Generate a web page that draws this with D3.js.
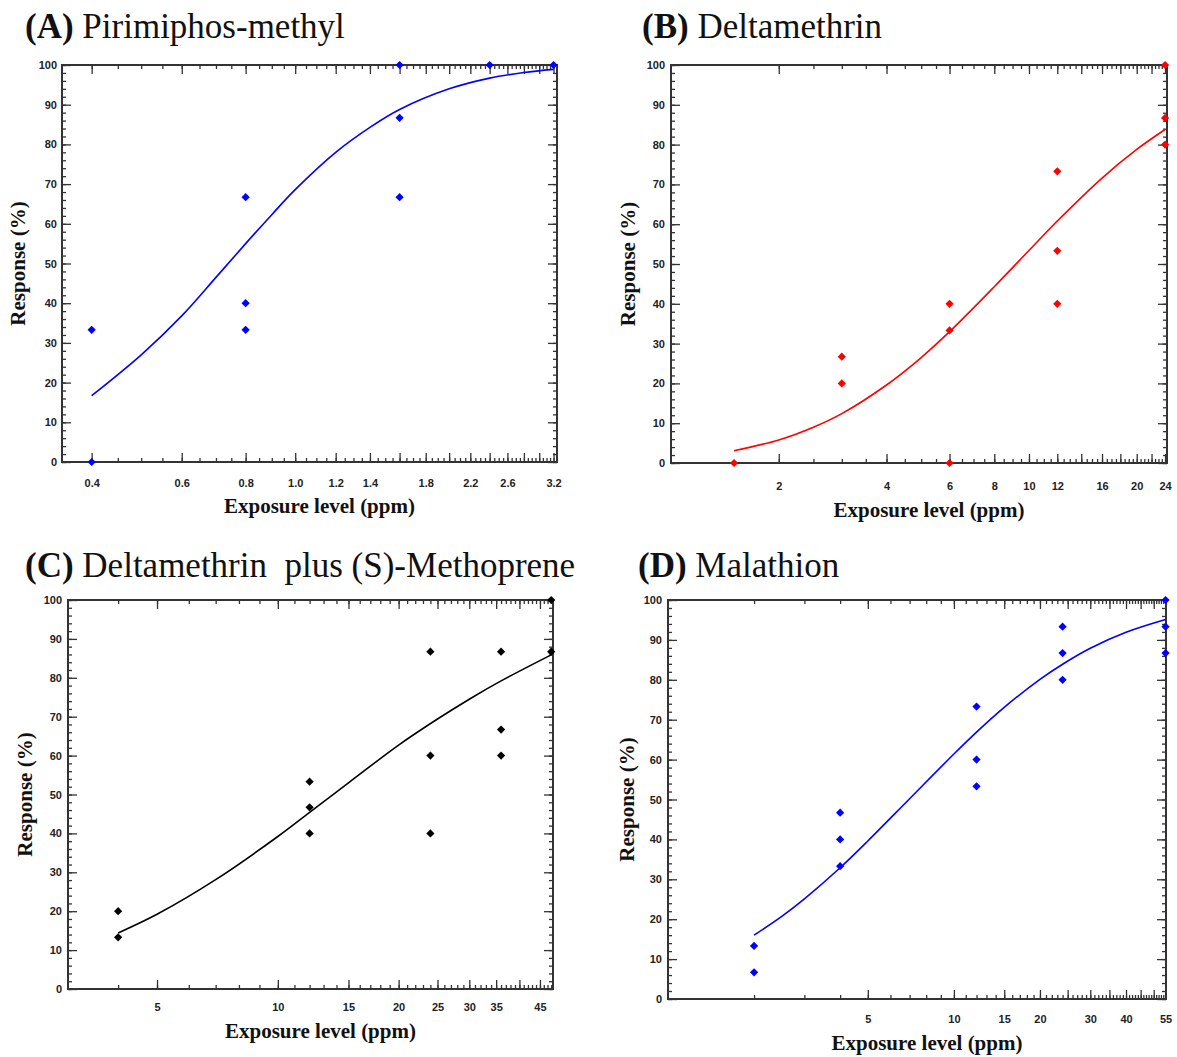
<!DOCTYPE html>
<html>
<head>
<meta charset="utf-8">
<script src="https://cdn.jsdelivr.net/npm/d3@7"></script>
<style>
  html, body { margin: 0; padding: 0; background: #fff; }
  svg { display: block; }
</style>
</head>
<body>
<script>
// ---------- DATA ----------
// (A) Pirimiphos-methyl
const doseA = [0.4, 0.4, 0.8, 0.8, 0.8, 1.6, 1.6, 1.6, 2.4, 3.2];
const respA = [33.3, 0, 66.7, 40, 33.3, 100, 86.7, 66.7, 100, 100];
const fitDoseA = [0.4, 0.5, 0.6, 0.7, 0.8, 0.9, 1.0, 1.2, 1.4, 1.6, 2.0, 2.4, 2.8, 3.2];
const fitRespA = [16.7, 27.0, 36.8, 46.5, 55.0, 62.3, 68.6, 78.0, 84.3, 88.8, 94.0, 96.7, 98.1, 98.9];
const labelsA = ["0.4", "0.6", "0.8", "1.0", "1.2", "1.4", "1.8", "2.2", "2.6", "3.2"];

// (B) Deltamethrin
const doseB = [1.5, 3, 3, 6, 6, 6, 12, 12, 12, 24, 24, 24];
const respB = [0, 26.7, 20, 40, 33.3, 0, 73.3, 53.3, 40, 100, 86.7, 80];
const fitDoseB = [1.5, 2, 2.5, 3, 4, 5, 6, 8, 10, 12, 16, 20, 24];
const fitRespB = [3.1, 5.8, 9.0, 12.4, 19.6, 26.5, 33.0, 44.3, 53.4, 60.8, 71.6, 78.8, 83.8];
const labelsB = ["2", "4", "6", "8", "10", "12", "16", "20", "24"];

// (C) Deltamethrin plus (S)-Methoprene
const doseC = [4, 4, 12, 12, 12, 24, 24, 24, 36, 36, 36, 48, 48];
const respC = [20, 13.3, 53.3, 46.7, 40, 86.7, 60, 40, 86.7, 66.7, 60, 100, 86.7];
const fitDoseC = [4, 5, 7, 10, 12, 15, 20, 25, 30, 36, 48];
const fitRespC = [14.4, 19.2, 28.1, 39.2, 45.4, 53.0, 62.7, 69.4, 74.5, 79.2, 85.9];
const labelsC = ["5", "10", "15", "20", "25", "30", "35", "45"];

// (D) Malathion
const doseD = [2, 2, 4, 4, 4, 12, 12, 12, 24, 24, 24, 55, 55, 55];
const respD = [13.3, 6.7, 46.7, 40, 33.3, 73.3, 60, 53.3, 93.3, 86.7, 80, 100, 93.3, 86.7];
const fitDoseD = [2, 2.5, 3, 4, 5, 7, 10, 12, 15, 20, 24, 30, 40, 55];
const fitRespD = [16.0, 20.7, 25.1, 32.9, 39.6, 50.2, 61.4, 66.9, 73.1, 80.1, 83.9, 87.9, 91.9, 95.1];
const labelsD = ["5", "10", "15", "20", "30", "40", "55"];

const yMajor = d3.range(0, 101, 10);
const yMinor = d3.range(0, 101, 2);

// ---------- LAYOUT ----------
const W = 1177, H = 1057;
const svg = d3.select("body").append("svg").attr("width", W).attr("height", H);

const panels = [
  { letter: "(A)", name: "\u00a0Pirimiphos-methyl", color: "#0000ff",
    dose: doseA, resp: respA, fitDose: fitDoseA, fitResp: fitRespA, labels: labelsA,
    major: d3.range(2, 17).map(i => i / 5), minor: d3.range(8, 65).map(i => i / 20),
    xDomain: [0.35, 3.25], left: 62, right: 557, top: 65, bottom: 462,
    titleX: 25, titleY: 38, xPad: 17, xTitleY: 513, yTitleX: 25, yPad: 5 },
  { letter: "(B)", name: "\u00a0Deltamethrin", color: "#ff0000",
    dose: doseB, resp: respB, fitDose: fitDoseB, fitResp: fitRespB, labels: labelsB,
    major: d3.range(1, 13).map(i => i * 2), minor: d3.range(4, 49).map(i => i / 2),
    xDomain: [1, 24.3], left: 671, right: 1167, top: 65, bottom: 463,
    titleX: 642, titleY: 38, xPad: 19, xTitleY: 517, yTitleX: 635, yPad: 6 },
  { letter: "(C)", name: "\u00a0Deltamethrin\u00a0\u00a0plus (S)-Methoprene", color: "#000000",
    dose: doseC, resp: respC, fitDose: fitDoseC, fitResp: fitRespC, labels: labelsC,
    major: d3.range(1, 10).map(i => i * 5), minor: d3.range(4, 49),
    xDomain: [3, 48.5], left: 68, right: 553, top: 600, bottom: 989,
    titleX: 25, titleY: 577, xPad: 14, xTitleY: 1038, yTitleX: 32, yPad: 6 },
  { letter: "(D)", name: "\u00a0Malathion", color: "#0000ff",
    dose: doseD, resp: respD, fitDose: fitDoseD, fitResp: fitRespD, labels: labelsD,
    major: d3.range(1, 12).map(i => i * 5), minor: d3.range(2, 56),
    xDomain: [1, 55.2], left: 668, right: 1166, top: 600, bottom: 999,
    titleX: 638, titleY: 577, xPad: 16, xTitleY: 1050, yTitleX: 634, yPad: 6 }
];

const tickFont = "'Liberation Sans', Arial, sans-serif";
const serif = "'Liberation Serif', 'Times New Roman', serif";
const axisColor = "#333";

function styleAxis(sel) {
  sel.select(".domain").remove();
  sel.selectAll(".tick line").attr("stroke", axisColor).attr("stroke-width", 1.3);
  sel.selectAll(".tick text")
    .attr("fill", "#222")
    .style("font-family", tickFont)
    .style("font-weight", "bold")
    .style("font-size", "11px");
}

panels.forEach(p => {
  const g = svg.append("g");
  const x = d3.scaleLog().domain(p.xDomain).range([p.left, p.right]);
  const y = d3.scaleLinear().domain([0, 100]).range([p.bottom, p.top]);
  const fmt = d => {
    const idx = p.labels.findIndex(l => Math.abs(+l - d) < 1e-9);
    return idx >= 0 ? p.labels[idx] : "";
  };

  // y axes (left labelled, right mirrored)
  g.append("g").attr("transform", `translate(${p.left},0)`)
    .call(d3.axisLeft(y).tickValues(yMinor).tickSizeInner(-4).tickSizeOuter(0).tickFormat(""))
    .call(styleAxis);
  g.append("g").attr("transform", `translate(${p.left},0)`)
    .call(d3.axisLeft(y).tickValues(yMajor).tickSizeInner(-9).tickSizeOuter(0).tickPadding(p.yPad))
    .call(styleAxis);
  g.append("g").attr("transform", `translate(${p.right},0)`)
    .call(d3.axisRight(y).tickValues(yMinor).tickSizeInner(-4).tickSizeOuter(0).tickFormat(""))
    .call(styleAxis);
  g.append("g").attr("transform", `translate(${p.right},0)`)
    .call(d3.axisRight(y).tickValues(yMajor).tickSizeInner(-9).tickSizeOuter(0).tickFormat(""))
    .call(styleAxis);

  // x axes (bottom labelled, top mirrored)
  g.append("g").attr("transform", `translate(0,${p.bottom})`)
    .call(d3.axisBottom(x).tickValues(p.minor).tickSizeInner(-4).tickSizeOuter(0).tickFormat(""))
    .call(styleAxis);
  g.append("g").attr("transform", `translate(0,${p.bottom})`)
    .call(d3.axisBottom(x).tickValues(p.major).tickSizeInner(-9).tickSizeOuter(0).tickFormat(""))
    .call(styleAxis);
  g.append("g").attr("transform", `translate(0,${p.bottom})`)
    .call(d3.axisBottom(x).tickValues(p.labels.map(Number)).tickSizeInner(0).tickSizeOuter(0)
      .tickPadding(p.xPad).tickFormat(fmt))
    .call(styleAxis);
  g.append("g").attr("transform", `translate(0,${p.top})`)
    .call(d3.axisTop(x).tickValues(p.minor).tickSizeInner(-4).tickSizeOuter(0).tickFormat(""))
    .call(styleAxis);
  g.append("g").attr("transform", `translate(0,${p.top})`)
    .call(d3.axisTop(x).tickValues(p.major).tickSizeInner(-9).tickSizeOuter(0).tickFormat(""))
    .call(styleAxis);

  // frame
  g.append("rect")
    .attr("x", p.left).attr("y", p.top)
    .attr("width", p.right - p.left).attr("height", p.bottom - p.top)
    .attr("fill", "none").attr("stroke", axisColor).attr("stroke-width", 2);

  // fitted curve
  const fit = p.fitDose.map((d, i) => [d, p.fitResp[i]]);
  g.append("path")
    .datum(fit)
    .attr("d", d3.line().x(d => x(d[0])).y(d => y(d[1])).curve(d3.curveCatmullRom.alpha(0.5)))
    .attr("fill", "none").attr("stroke", p.color).attr("stroke-width", 1.6);

  // points (diamonds = squares rotated 45deg)
  const pts = p.dose.map((d, i) => [d, p.resp[i]]);
  const diamond = d3.symbol().type(d3.symbolSquare).size(34);
  g.selectAll("path.pt").data(pts).join("path")
    .attr("class", "pt")
    .attr("d", diamond)
    .attr("transform", d => `translate(${x(d[0])},${y(d[1])}) rotate(45)`)
    .attr("fill", p.color);

  // title
  const t = svg.append("text")
    .attr("x", p.titleX).attr("y", p.titleY)
    .style("font-family", serif).style("font-size", "35px").attr("fill", "#111");
  t.append("tspan").style("font-weight", "bold").text(p.letter);
  t.append("tspan").text(p.name);

  // axis titles
  svg.append("text")
    .attr("x", (p.left + p.right) / 2 + 10).attr("y", p.xTitleY)
    .attr("text-anchor", "middle")
    .style("font-family", serif).style("font-weight", "bold").style("font-size", "21px")
    .attr("fill", "#111")
    .text("Exposure level (ppm)");
  svg.append("text")
    .attr("transform", `translate(${p.yTitleX},${(p.top + p.bottom) / 2}) rotate(-90)`)
    .attr("text-anchor", "middle")
    .style("font-family", serif).style("font-weight", "bold").style("font-size", "21px")
    .attr("fill", "#111")
    .text("Response (%)");
});
</script>
</body>
</html>
